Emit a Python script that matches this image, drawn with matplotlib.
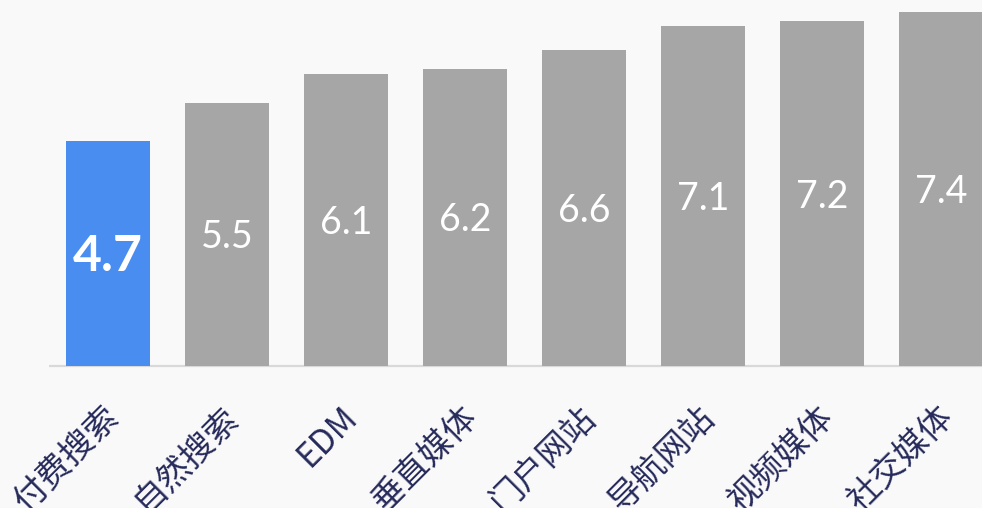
import matplotlib.pyplot as plt
from matplotlib.transforms import ScaledTranslation

plt.rcParams['font.family'] = ['Noto Sans CJK SC', 'DejaVu Sans']

# channel cost index, sorted ascending
channels = ['付费搜索', '自然搜索', 'EDM', '垂直媒体', '门户网站', '导航网站', '视频媒体', '社交媒体']
values = [4.7, 5.5, 6.1, 6.2, 6.6, 7.1, 7.2, 7.4]
highlight = '付费搜索'

bg = '#f9f9f9'
blue = '#4a8df0'
grey = '#a6a6a6'
label_color = '#262a5a'

fig = plt.figure(figsize=(9.82, 5.08), dpi=100, facecolor=bg)
ax = fig.add_axes([0, 142 / 508, 1, 366 / 508])
ax.set_facecolor(bg)

x = list(range(len(channels)))
colors = [blue if c == highlight else grey for c in channels]
ax.bar(x, values, width=0.706, color=colors, zorder=2)

# baseline
ax.hlines(0, -0.5, 7.6, color='#d9d9d9', linewidth=1.6, zorder=1, clip_on=False)

for xi, v, c in zip(x, values, channels):
    bold = c == highlight
    ax.text(xi, v / 2 - 0.06, f'{v:.1f}', ha='center', va='center',
            color='white', fontsize=36 if bold else 27,
            family=['Lato', 'DejaVu Sans'],
            fontweight='bold' if bold else 'normal', zorder=3)

ax.set_xlim(-0.9076, 7.345)
ax.set_ylim(0, 7.647)

ax.set_xticks(x)
ax.set_xticklabels(channels, rotation=45, ha='right', va='top',
                   rotation_mode='anchor', fontsize=24, color=label_color)
ax.tick_params(axis='x', length=0, pad=24)
shift = ScaledTranslation(-6 / 100, 0, fig.dpi_scale_trans)
for lbl in ax.get_xticklabels():
    lbl.set_transform(lbl.get_transform() + shift)
ax.set_yticks([])
for s in ax.spines.values():
    s.set_visible(False)

fig.savefig('out.png', dpi=100, facecolor=bg)
